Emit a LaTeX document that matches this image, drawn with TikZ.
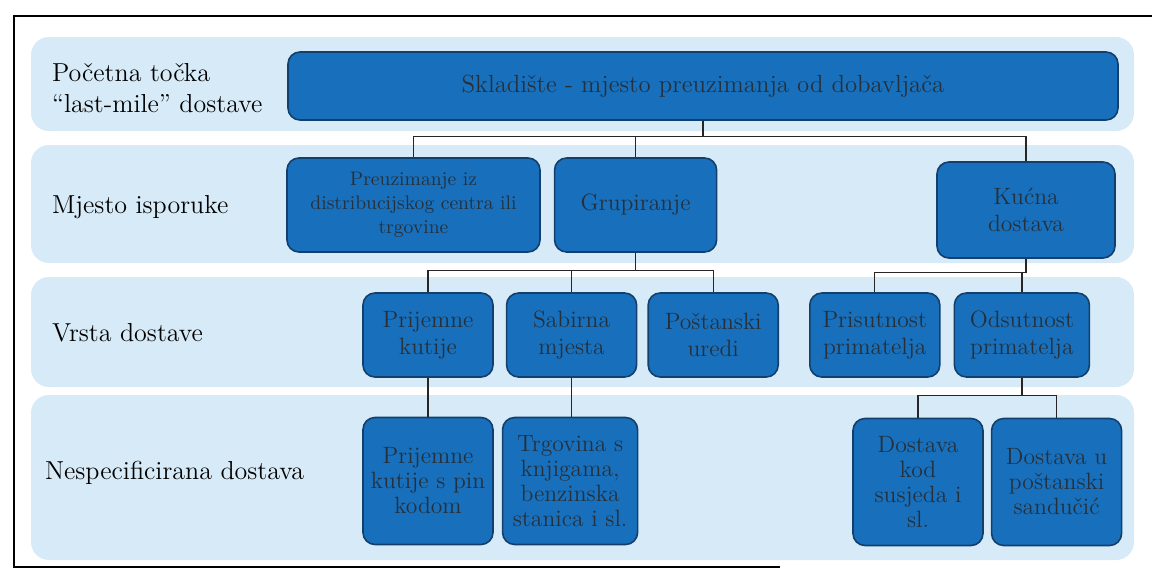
\documentclass[tikz,border=0pt]{standalone}
\usetikzlibrary{positioning}
\definecolor{bandblue}{HTML}{D7EAF7}
\definecolor{boxblue}{HTML}{1870BD}
\definecolor{boxedge}{HTML}{123F6B}
\definecolor{boxtext}{HTML}{26303A}
\tikzset{
  band/.style={fill=bandblue, rounded corners=9pt},
  levelbox/.style={draw=boxedge, fill=boxblue, rounded corners=6pt, thick,
    align=center, text=boxtext, inner sep=2pt,
    font=\fontsize{11.8}{13.5}\selectfont},
  smallbox/.style={levelbox, minimum width=65pt, minimum height=42pt},
  tallbox/.style={levelbox, minimum width=65pt, minimum height=63.5pt,
    font=\fontsize{11.8}{12.5}\selectfont},
  rowlabel/.style={anchor=west, align=left, font=\fontsize{13}{15.5}\selectfont},
  link/.style={draw=black!85, semithick}
}

\begin{document}
\begin{tikzpicture}[x=0.5pt, y=-0.5pt]
  \useasboundingbox (0,0) rectangle (1152,574);
  % frame and bands
  \draw[line width=1pt] (1152,16) -- (14,16) -- (14,567) -- (780,567);
  \fill[band] (31,37) rectangle (1134,131);
  \fill[band] (31,145) rectangle (1134,263);
  \fill[band] (31,277) rectangle (1134,387);
  \fill[band] (31,395) rectangle (1134,560);

  % row labels
  \node[rowlabel] (lvlstart) at (45,88) {Početna točka\\“last-mile” dostave};
  \node[rowlabel] (lvlplace) at (45,207) {Mjesto isporuke};
  \node[rowlabel] (lvltype) at (45,333) {Vrsta dostave};
  \node[rowlabel] (lvlother) at (38,473) {Nespecificirana dostava};

  % level 1
  \node[levelbox, minimum width=415pt, minimum height=34pt,
    font=\fontsize{12.4}{15}\selectfont] (source) at (703,86)
    {Skladište - mjesto preuzimanja od dobavljača};

  % level 2
  \node[levelbox, minimum width=126.5pt, minimum height=47pt,
    font=\fontsize{9.8}{12}\selectfont] (pickup) at (413.5,205)
    {Preuzimanje iz\\distribucijskog centra ili\\trgovine};
  \node[levelbox, minimum width=81pt, minimum height=47pt,
    right=6.5pt of pickup] (grouping) {Grupiranje};
  \node[levelbox, minimum width=89pt, minimum height=48pt] (home) at (1026,210)
    {Kućna\\dostava};

  % level 3
  \node[smallbox] (boxes) at (428,335) {Prijemne\\kutije};
  \node[smallbox, right=6pt of boxes] (collect) {Sabirna\\mjesta};
  \node[smallbox, right=5pt of collect] (postoffice) {Poštanski\\uredi};
  \node[smallbox, right=15pt of postoffice] (present) {Prisutnost\\primatelja};
  \node[smallbox, right=6.5pt of present, minimum width=67.5pt] (absent)
    {Odsutnost\\primatelja};

  % level 4
  \node[tallbox] (pinbox) at (428,481) {Prijemne\\kutije s pin\\kodom};
  \node[tallbox, right=4pt of pinbox, minimum width=67.5pt] (store)
    {Trgovina s\\knjigama,\\benzinska\\stanica i sl.};
  \node[tallbox] (neighbour) at (918,482) {Dostava\\kod\\susjeda i\\sl.};
  \node[tallbox, right=3.5pt of neighbour] (mailbox)
    {Dostava u\\poštanski\\sandučić};

  % connectors
  \draw[link] (source.south) -- ++(0,16) -| (pickup.north);
  \draw[link] (source.south) -- ++(0,16) -| (grouping.north);
  \draw[link] (source.south) -- ++(0,16) -| (home.north);
  \draw[link] (grouping.south) -- ++(0,18) -| (boxes.north);
  \draw[link] (grouping.south) -- ++(0,18) -| (collect.north);
  \draw[link] (grouping.south) -- ++(0,18) -| (postoffice.north);
  \draw[link] (home.south) -- ++(0,14) -| (present.north);
  \draw[link] (home.south) -- ++(0,14) -| (absent.north);
  \draw[link] (boxes.south) -- (pinbox.north);
  \draw[link] (collect.south) -- (collect.south |- store.north);
  \draw[link] (absent.south) -- ++(0,18) -| (neighbour.north);
  \draw[link] (absent.south) -- ++(0,18) -| (mailbox.north);
\end{tikzpicture}
\end{document}
